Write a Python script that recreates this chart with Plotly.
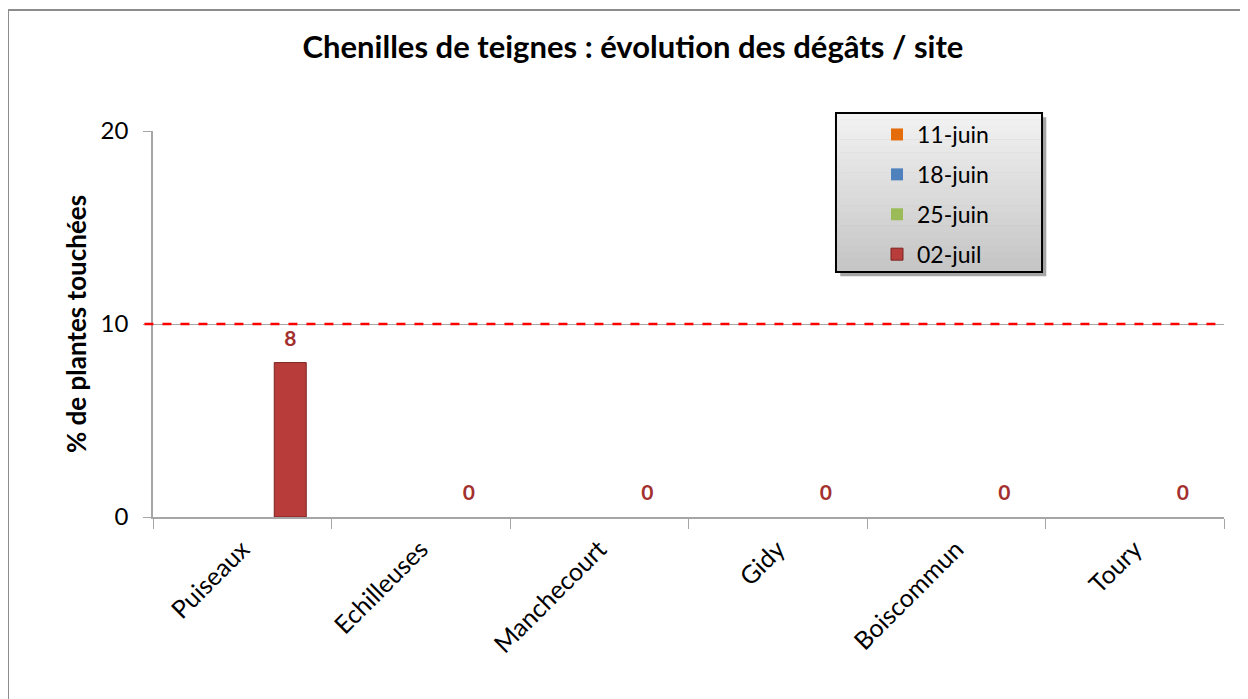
import plotly.graph_objects as go

sites = ["Puiseaux", "Echilleuses", "Manchecourt", "Gidy", "Boiscommun", "Toury"]
series_names = ["11-juin", "18-juin", "25-juin", "02-juil"]
v_11juin = [None, None, None, None, None, None]
v_18juin = [None, None, None, None, None, None]
v_25juin = [None, None, None, None, None, None]
v_02juil = [8, 0, 0, 0, 0, 0]
seuil = 10
y_ticks = [0, 10, 20]

colors = ["#E46C0A", "#4F81BD", "#9BBB59", "#B83D3A"]
line_colors = ["#B85408", "#3A6494", "#7A9545", "#7A2321"]
values = [v_11juin, v_18juin, v_25juin, v_02juil]

FONT = "Lato"
fig = go.Figure()
for name, vals, c, lc in zip(series_names, values, colors, line_colors):
    show_text = name == "02-juil"
    fig.add_trace(go.Bar(
        x=sites, y=vals, name=name,
        marker=dict(color=c, line=dict(color=lc, width=[1 if (v or 0) > 0 else 0 for v in vals])),
        texttemplate=("<span style='font-size:21px'>%{y}</span><br> " if show_text else None),
        textposition="outside" if show_text else "none",
        textfont=dict(color="#A3302E", size=9, family=FONT, weight="bold"),
        constraintext="none",
        cliponaxis=False,
        legendgroup=name,
    ))

fig.add_shape(type="line", xref="paper", yref="y", x0=-0.008, x1=1, y0=seuil, y1=seuil,
              line=dict(color="#FF0000", width=2.5, dash="dash"))
# outer chart border
fig.add_shape(type="rect", xref="paper", yref="paper", x0=-0.1354, x1=1.2, y0=-0.8, y1=1.3135,
              line=dict(color="#8C8C8C", width=2), layer="below")

# legend box (shadow + gradient-like fill + border)
lx0, lx1, ly0, ly1 = 0.6377, 0.8301, 0.6347, 1.0466
fig.add_shape(type="rect", xref="paper", yref="paper", x0=lx0 + 0.004, x1=lx1 + 0.004,
              y0=ly0 - 0.011, y1=ly1 - 0.011, line=dict(width=0), fillcolor="rgba(0,0,0,0.35)")
nb = 24
for i in range(nb):
    t = i / (nb - 1)
    g = int(242 - (242 - 198) * t)
    fig.add_shape(type="rect", xref="paper", yref="paper", x0=lx0, x1=lx1,
                  y0=ly1 - (ly1 - ly0) * (i + 1) / nb, y1=ly1 - (ly1 - ly0) * i / nb + 0.001,
                  line=dict(width=0), fillcolor=f"rgb({g},{g},{g})")
fig.add_shape(type="rect", xref="paper", yref="paper", x0=lx0, x1=lx1, y0=ly0, y1=ly1,
              line=dict(color="black", width=2), fillcolor="rgba(0,0,0,0)")

fig.update_layout(
    width=1248, height=699,
    margin=dict(l=145, r=32, t=123, b=190),
    paper_bgcolor="white", plot_bgcolor="white",
    barmode="group", bargap=0.283, bargroupgap=0,
    title=dict(text="<b>Chenilles de teignes : évolution des dégâts / site</b>",
               x=0.5008, xanchor="center", y=0.944, yanchor="middle",
               font=dict(family=FONT, size=31, color="black")),
    font=dict(family=FONT, size=22, color="black"),
    legend=dict(x=0.676, y=1.0466, xanchor="left", yanchor="top",
                bgcolor="rgba(0,0,0,0)", borderwidth=0,
                font=dict(family=FONT, size=23, color="black"),
                traceorder="grouped", tracegroupgap=7),
    showlegend=True,
    xaxis=dict(showline=True, linecolor="#A6A6A6", linewidth=1.5,
               ticks="outside", tickson="boundaries", ticklen=10, tickcolor="#A6A6A6",
               ticklabelstandoff=6,
               tickangle=-45, tickfont=dict(size=25, family=FONT), showgrid=False),
    yaxis=dict(range=[0, 20], tickvals=y_ticks, showline=True, linecolor="#A6A6A6", linewidth=1.5,
               ticks="outside", ticklen=8, tickcolor="#A6A6A6", ticklabelstandoff=10,
               showgrid=True, gridcolor="#A6A6A6", gridwidth=1, zeroline=False,
               tickfont=dict(size=24, family=FONT),
               title=dict(text="<b>% de plantes touchées</b>", standoff=7,
                          font=dict(size=26, family=FONT))),
)

fig.write_html("out.html")
